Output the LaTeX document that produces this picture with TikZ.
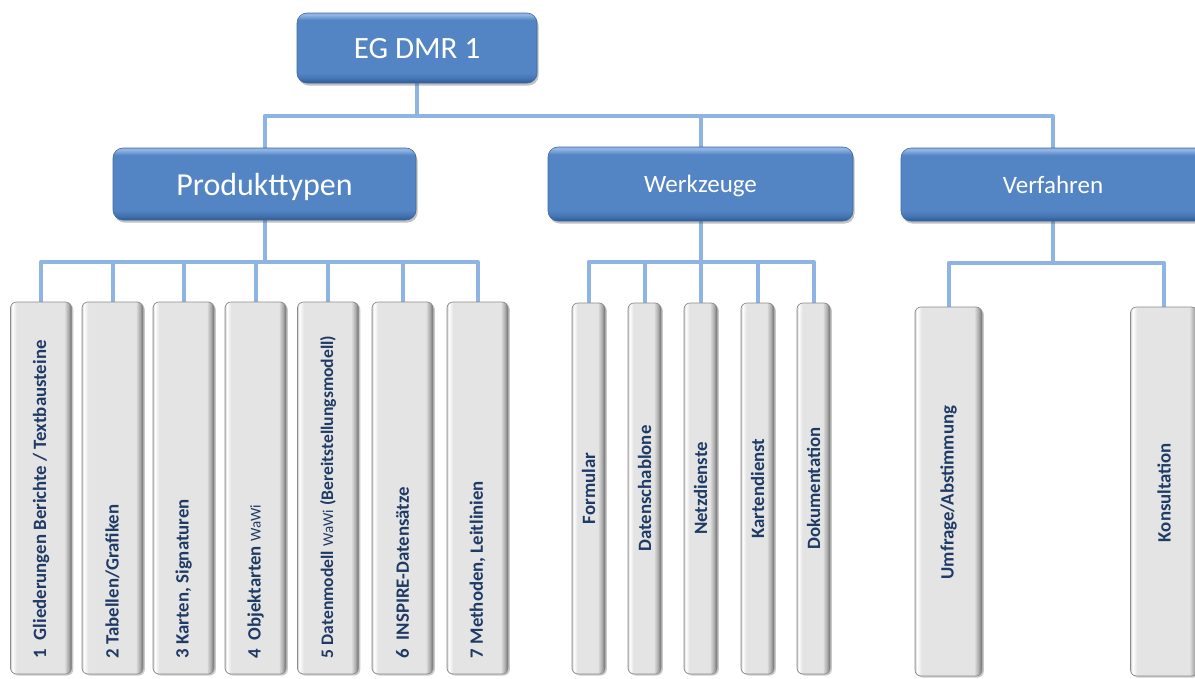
\documentclass[tikz,border=0pt]{standalone}
\usepackage{fontspec}
\setmainfont{Carlito}
\usetikzlibrary{shadows,backgrounds}

% colours
\definecolor{busblue}{HTML}{8DB4E2}
\definecolor{bbMid}{HTML}{5384C4}
\definecolor{bbHigh}{HTML}{8FB3E2}
\definecolor{bbLow}{HTML}{4272B1}
\definecolor{bbDark}{HTML}{2E5A92}
\definecolor{bbEdge}{HTML}{3D69A2}
\definecolor{lgFace}{HTML}{E4E4E4}
\definecolor{lgEdge}{HTML}{CFCFCF}
\definecolor{lgShade}{HTML}{ABABAB}
\definecolor{lgDark}{HTML}{6C6C6C}
\definecolor{leafLine}{HTML}{8A8A8A}
\definecolor{leafText}{HTML}{1F3A64}

% bevelled fills (the path box maps to 25bp..75bp)
\pgfdeclareverticalshading{bluebevel}{100bp}{color(0bp)=(bbDark); color(25bp)=(bbDark); color(28bp)=(bbLow); color(32bp)=(bbMid); color(70bp)=(bbMid); color(73.5bp)=(bbHigh); color(75bp)=(bbHigh); color(100bp)=(bbHigh)}
\pgfdeclarehorizontalshading{leafwideshade}{100bp}{color(0bp)=(lgEdge); color(25bp)=(lgEdge); color(26.5bp)=(white); color(30bp)=(lgFace); color(69bp)=(lgFace); color(72.5bp)=(lgShade); color(75bp)=(lgDark); color(100bp)=(lgDark)}
\pgfdeclarehorizontalshading{leafnarrowshade}{100bp}{color(0bp)=(lgEdge); color(25bp)=(lgEdge); color(27.5bp)=(white); color(33bp)=(lgFace); color(64bp)=(lgFace); color(70.5bp)=(lgShade); color(75bp)=(lgDark); color(100bp)=(lgDark)}

\tikzset{
  conn/.style={draw=busblue, line width=4pt, line join=round},
  bluebox/.style={rounded corners=10pt, shading=bluebevel, draw=bbEdge, line width=0.6pt,
    text=white, inner sep=0pt, text depth=0pt,
    drop shadow={shadow xshift=1.5pt, shadow yshift=-2.5pt, opacity=0.35, fill=black!70}},
  leafbox/.style={rounded corners=6pt, draw=leafLine, line width=0.7pt, inner sep=0pt,
    drop shadow={shadow xshift=1.8pt, shadow yshift=-1.5pt, opacity=0.3, fill=black!70}},
  leafwide/.style={leafbox, shading=leafwideshade, minimum width=61pt, minimum height=372pt},
  leafnarrow/.style={leafbox, shading=leafnarrowshade, minimum width=33pt, minimum height=371pt},
  leafverf/.style={leafbox, shading=leafwideshade, minimum width=67pt, minimum height=369pt},
  leaftext/.style={rotate=90, text=leafText, inner sep=0pt,
    font=\bfseries\fontsize{18.8}{20}\selectfont},
}
\newcommand{\wawi}{{\mdseries\fontsize{15}{16}\selectfont WaWi}}

\begin{document}
\begin{tikzpicture}[x=1pt, y=-1pt]
\useasboundingbox (0,0) rectangle (1195,678);
\clip (0,0) rectangle (1195,678);

% level 0 and 1
\node[bluebox, minimum width=240pt, minimum height=70pt, font=\fontsize{31}{34}\selectfont]
  (root) at (417,48) {EG DMR 1};
\node[bluebox, minimum width=303pt, minimum height=72pt, font=\fontsize{32}{35}\selectfont]
  (prod) at (264.5,184) {Produkttypen};
\node[bluebox, minimum width=305pt, minimum height=74pt, font=\fontsize{25}{28}\selectfont]
  (wz) at (700.5,184) {Werkzeuge};
\node[bluebox, minimum width=304pt, minimum height=73pt, font=\fontsize{25}{28}\selectfont]
  (verf) at (1053,184.5) {Verfahren};

% Produkttypen leaves
\node[leafwide] (p1) at (41,488) {};
\node[leafwide] (p2) at (112.5,488) {};
\node[leafwide] (p3) at (183.5,488) {};
\node[leafwide] (p4) at (255.5,488) {};
\node[leafwide] (p5) at (328,488) {};
\node[leafwide] (p6) at (402.5,488) {};
\node[leafwide] (p7) at (477.5,488) {};

\node[leaftext, anchor=west] (t1) at ([yshift=16pt]p1.south) {1\ \ Gliederungen Berichte / Textbausteine};
\node[leaftext, anchor=west] (t2) at ([yshift=16pt]p2.south) {2\ Tabellen/Grafiken};
\node[leaftext, anchor=west] (t3) at ([yshift=16pt]p3.south) {3\ Karten, Signaturen};
\node[leaftext, anchor=west] (t4) at ([yshift=16pt]p4.south) {4\ \ Objektarten \wawi};
\node[leaftext, anchor=west, font=\bfseries\fontsize{17.6}{19}\selectfont] (t5) at ([yshift=16pt]p5.south)
  {5 Datenmodell \wawi\ (Bereitstellungsmodell)};
\node[leaftext, anchor=west] (t6) at ([yshift=16pt]p6.south) {6\ \ INSPIRE-Datensätze};
\node[leaftext, anchor=west] (t7) at ([yshift=16pt]p7.south) {7\ Methoden, Leitlinien};

% Werkzeuge leaves
\node[leafnarrow] (w1) at (588.5,488.5) {};
\node[leafnarrow] (w2) at (644.5,488.5) {};
\node[leafnarrow] (w3) at (700.5,488.5) {};
\node[leafnarrow] (w4) at (757.5,488.5) {};
\node[leafnarrow] (w5) at (813.5,488.5) {};
\node[leaftext] (u1) at (w1.center) {Formular};
\node[leaftext] (u2) at (w2.center) {Datenschablone};
\node[leaftext] (u3) at (w3.center) {Netzdienste};
\node[leaftext] (u4) at (w4.center) {Kartendienst};
\node[leaftext] (u5) at (w5.center) {Dokumentation};

% Verfahren leaves
\node[leafverf] (v1) at (948.5,491.5) {};
\node[leafverf] (v2) at (1164,491.5) {};
\node[leaftext] (s1) at ([yshift=-1pt]v1.center) {Umfrage/Abstimmung};
\node[leaftext] (s2) at ([yshift=-1pt]v2.center) {Konsultation};

% connector buses
\coordinate (bus1) at (0,116);
\coordinate (bus2) at (0,262);
\coordinate (bus3) at (0,263);

\begin{scope}[on background layer]
  \draw[conn] (root.south) -- (root.south |- bus1);
  \draw[conn] (prod.north) |- (verf.north |- bus1) -- (verf.north);
  \draw[conn] (wz.north) -- (wz.north |- bus1);

  \draw[conn] (prod.south) -- (prod.south |- bus2);
  \draw[conn] (p1.north) |- (p7.north |- bus2) -- (p7.north);
  \foreach \n in {p2,p3,p4,p5,p6} \draw[conn] (\n.north) -- (\n.north |- bus2);

  \draw[conn] (wz.south) -- (wz.south |- bus2);
  \draw[conn] (w1.north) |- (w5.north |- bus2) -- (w5.north);
  \foreach \n in {w2,w3,w4} \draw[conn] (\n.north) -- (\n.north |- bus2);

  \draw[conn] (verf.south) -- (verf.south |- bus3);
  \draw[conn] (v1.north) |- (v2.north |- bus3) -- (v2.north);
\end{scope}
\end{tikzpicture}
\end{document}
